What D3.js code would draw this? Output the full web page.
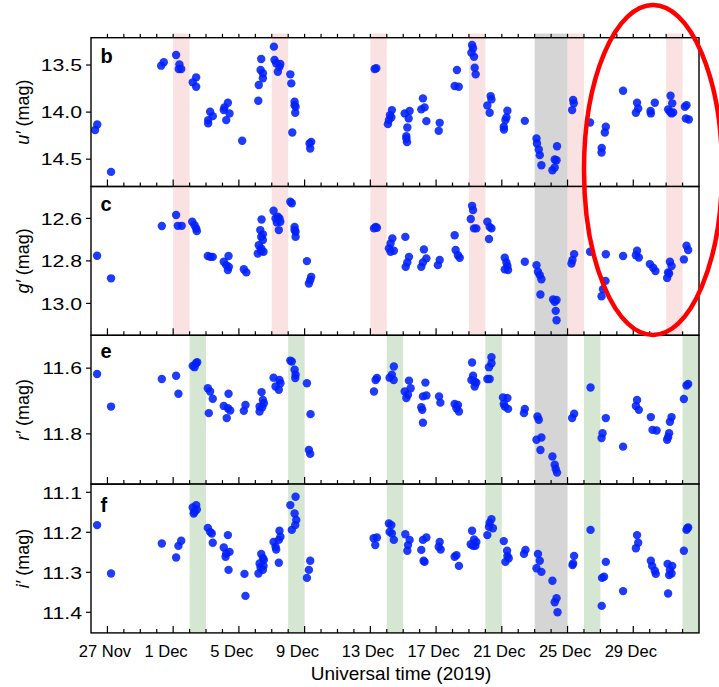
<!DOCTYPE html>
<html><head><meta charset="utf-8">
<script src="https://cdn.jsdelivr.net/npm/d3@7"></script>
<style>body{margin:0;background:#fff}svg{display:block}text{font-family:"Liberation Sans",Arial,Helvetica,sans-serif}</style>
</head><body><svg id="c" width="719" height="687"></svg>
<script>
// time values: fractional day of December 2019 (UT); values < 1 are in late November, > 31 in January 2020
const uT = [-3.75,-3.62,-2.78,0.27,0.43,1.18,1.38,1.49,1.34,2.19,2.40,2.40,3.13,3.25,3.41,3.13,4.08,4.33,4.23,4.43,4.12,5.20,6.18,6.21,6.36,6.32,6.46,6.46,7.13,7.17,7.27,7.47,7.37,7.52,8.13,8.19,8.25,8.39,8.45,8.43,8.39,9.30,9.34,9.40,
13.26,13.36,14.07,14.19,14.31,14.28,14.13,15.09,15.39,15.33,15.25,15.19,15.23,15.19,16.20,16.10,16.30,16.41,17.22,17.16,18.27,18.13,18.38,19.19,19.25,19.15,19.31,19.35,19.41,20.32,20.12,20.26,20.37,21.34,21.22,21.12,21.13,21.28,22.40,23.11,23.14,23.25,23.31,23.41,24.36,24.22,24.33,24.08,24.22,25.34,25.38,25.28,26.37,27.33,27.27,27.08,27.07,28.38,29.23,29.30,29.16,30.07,30.31,30.05,31.27,31.37,31.12,31.23,31.33,31.43,32.24,32.14,32.20,32.38];
const uMag = [14.190,14.131,14.635,13.507,13.471,13.394,13.493,13.543,13.543,13.684,13.631,13.731,14.120,13.997,14.043,14.085,13.979,13.901,14.085,14.014,13.950,14.305,13.880,13.713,13.436,13.553,13.588,13.641,13.305,13.447,13.482,13.518,13.571,13.489,13.599,13.695,14.216,13.890,13.944,14.007,13.926,14.333,14.386,14.316,
13.543,13.535,14.128,14.032,13.979,14.056,14.085,14.014,13.989,14.067,14.163,14.255,14.319,14.280,13.854,13.971,13.950,14.096,14.114,14.199,13.553,13.723,13.731,13.287,13.322,13.369,13.412,13.529,13.599,13.830,13.929,14.007,13.865,13.986,14.085,14.156,14.184,14.056,14.093,14.280,14.333,14.397,14.457,14.564,14.362,14.503,14.511,14.617,14.588,13.872,13.907,13.979,14.110,14.156,14.216,14.380,14.429,13.773,13.901,13.961,14.007,14.014,13.901,13.989,13.827,13.907,13.971,13.997,14.014,14.003,13.926,13.944,14.067,14.078];

const gT = [-3.63,-2.78,0.31,1.18,1.28,1.52,2.16,2.30,2.40,2.44,3.11,3.27,3.41,4.08,4.37,4.23,4.39,4.33,5.30,5.45,6.38,6.30,6.46,6.36,6.46,6.21,6.36,6.50,6.15,6.36,7.11,7.23,7.37,7.47,7.31,7.43,7.52,8.13,8.22,8.39,8.45,8.45,8.39,9.14,9.26,9.40,9.34,
13.22,13.32,13.40,14.34,14.23,14.13,14.23,14.43,15.13,15.35,15.25,15.15,16.26,16.41,16.20,16.10,17.22,17.11,18.13,18.19,18.33,18.44,19.19,19.25,19.11,19.31,19.45,20.12,20.37,20.26,20.22,21.18,21.28,21.34,21.18,21.38,22.40,23.11,23.20,23.31,23.41,23.35,24.12,24.33,24.22,24.28,24.33,25.40,25.30,25.24,26.37,27.33,27.31,27.16,27.07,28.38,29.23,29.34,29.16,30.01,30.21,30.35,31.23,31.33,31.12,31.06,31.18,32.08,32.24,32.34];
const gMag = [12.776,12.882,12.636,12.584,12.635,12.635,12.616,12.632,12.647,12.660,12.777,12.781,12.781,12.804,12.777,12.820,12.828,12.843,12.839,12.854,12.605,12.655,12.675,12.687,12.702,12.726,12.741,12.757,12.765,12.754,12.564,12.600,12.592,12.600,12.619,12.655,12.616,12.522,12.529,12.640,12.663,12.687,12.655,12.801,12.906,12.875,12.890,
12.647,12.640,12.644,12.694,12.718,12.741,12.757,12.752,12.687,12.781,12.807,12.828,12.746,12.788,12.807,12.828,12.796,12.820,12.679,12.749,12.773,12.785,12.541,12.561,12.603,12.647,12.647,12.616,12.647,12.640,12.697,12.785,12.807,12.824,12.840,12.843,12.804,12.820,12.851,12.867,12.886,12.958,12.981,12.984,12.992,13.035,13.079,12.768,12.796,12.812,12.757,12.769,12.894,12.933,12.966,12.777,12.752,12.784,12.773,12.815,12.832,12.848,12.804,12.824,12.854,12.880,12.859,12.793,12.729,12.749];

const rT = [-3.63,-2.78,0.31,1.18,1.32,2.19,2.40,2.46,2.30,3.11,3.25,3.41,3.17,4.08,4.37,4.33,4.47,4.26,5.30,5.40,6.26,6.38,6.46,6.52,6.42,6.26,7.11,7.23,7.43,7.47,7.53,8.13,8.22,8.39,8.45,8.43,9.14,9.36,9.26,9.34,
13.22,13.32,13.40,14.17,14.31,14.42,14.43,15.35,15.09,15.45,15.19,15.29,16.35,16.20,16.41,16.10,16.16,16.20,17.18,17.26,18.13,18.33,18.39,18.24,19.19,19.25,19.15,19.35,19.35,19.45,20.37,20.37,20.22,20.12,20.26,21.07,21.34,21.18,21.38,21.12,22.40,22.35,23.17,23.25,23.11,23.41,23.35,24.08,24.22,24.28,24.36,25.40,25.28,26.40,27.33,27.13,27.07,28.38,29.23,29.16,29.34,30.07,30.17,30.42,31.33,31.23,31.18,31.12,31.06,32.08,32.24,32.34];
const rMag = [11.618,11.717,11.633,11.623,11.678,11.593,11.585,11.582,11.597,11.661,11.671,11.693,11.737,11.715,11.678,11.722,11.729,11.752,11.730,11.712,11.732,11.673,11.697,11.707,11.719,11.717,11.629,11.656,11.666,11.636,11.646,11.577,11.580,11.605,11.620,11.630,11.646,11.740,11.849,11.861,
11.671,11.636,11.630,11.629,11.620,11.636,11.595,11.638,11.671,11.661,11.691,11.681,11.644,11.686,11.683,11.719,11.727,11.766,11.686,11.705,11.709,11.712,11.732,11.722,11.583,11.623,11.636,11.641,11.656,11.644,11.567,11.585,11.597,11.633,11.633,11.689,11.691,11.717,11.724,11.709,11.724,11.737,11.747,11.757,11.818,11.811,11.849,11.869,11.894,11.907,11.918,11.739,11.752,11.659,11.752,11.798,11.813,11.839,11.697,11.715,11.727,11.749,11.788,11.790,11.749,11.763,11.798,11.810,11.818,11.694,11.653,11.648];

const iT = [-3.63,-2.78,0.31,1.18,1.32,1.49,2.19,2.30,2.40,2.44,2.25,3.11,3.25,3.35,3.41,4.08,4.33,4.23,4.43,4.37,4.19,5.34,5.40,6.19,6.36,6.26,6.46,6.52,6.32,6.50,6.46,7.11,7.23,7.43,7.47,7.53,7.43,7.27,8.13,8.22,8.45,8.39,8.49,8.43,9.14,9.34,9.26,
13.30,13.40,13.20,14.13,14.28,14.31,14.43,14.17,15.13,15.39,15.25,15.29,16.41,16.20,16.10,16.24,16.30,17.22,17.28,17.16,18.24,18.39,18.13,19.19,19.31,19.45,19.25,19.11,19.39,20.37,20.26,20.46,20.12,20.22,21.12,21.32,21.22,21.42,21.34,22.44,22.35,23.20,23.31,23.11,23.41,24.08,24.33,24.22,24.39,25.40,25.30,25.34,26.40,27.33,27.22,27.10,27.08,28.38,29.23,29.30,29.16,30.07,30.15,30.31,30.37,31.09,31.37,31.23,31.18,31.33,31.12,32.08,32.24,32.34,32.29];
const iMag = [11.182,11.303,11.228,11.263,11.234,11.221,11.138,11.149,11.132,11.143,11.153,11.189,11.199,11.203,11.226,11.238,11.207,11.253,11.249,11.294,11.261,11.304,11.359,11.303,11.254,11.278,11.294,11.269,11.288,11.284,11.264,11.224,11.236,11.219,11.196,11.211,11.276,11.243,11.132,11.194,11.111,11.153,11.169,11.182,11.314,11.271,11.294,
11.232,11.213,11.215,11.178,11.182,11.203,11.219,11.199,11.205,11.219,11.246,11.232,11.213,11.219,11.244,11.271,11.274,11.224,11.243,11.236,11.257,11.284,11.261,11.196,11.218,11.224,11.234,11.230,11.234,11.167,11.176,11.190,11.207,11.186,11.222,11.246,11.274,11.265,11.259,11.244,11.254,11.254,11.271,11.290,11.299,11.321,11.365,11.375,11.400,11.259,11.282,11.278,11.194,11.274,11.311,11.314,11.384,11.347,11.207,11.226,11.240,11.271,11.284,11.296,11.304,11.279,11.284,11.294,11.307,11.303,11.353,11.246,11.194,11.188,11.190];

// y-axis domains (magnitude, inverted) and tick values
const uDomain = [13.21, 14.79], gDomain = [12.45, 13.15], rDomain = [11.50, 11.953], iDomain = [11.0795, 11.4515];
const uTicks = [13.5, 14.0, 14.5], gTicks = [12.6, 12.8, 13.0], rTicks = [11.6, 11.8], iTicks = [11.1, 11.2, 11.3, 11.4];
// shaded one-day intervals (start day of December 2019)
const pinkBands = [1, 7, 13, 19, 25, 31];
const greenBands = [2, 8, 14, 20, 26, 32];
const grayBand = [23, 25];
const panelLetters = ["b", "c", "e", "f"];
const bandNames = ["u", "g", "r", "i"];
const xTitle = "Universal time (2019)";

const svg = d3.select("#c");
const toDate = t => new Date(Date.UTC(2019, 11, 1) + (t - 1) * 864e5);
const x = d3.scaleUtc().domain([new Date(Date.UTC(2019, 10, 26)), new Date(Date.UTC(2020, 0, 2))]).range([91, 699]);
const top0 = 37.7, ph = 148.8;
const PINK = "#fbe2e2", GREEN = "#d5e6d2", GRAY = "#d5d5d5", DOT = "rgb(0,32,250)";

const panels = [
  {T: uT, M: uMag, dom: uDomain, ticks: uTicks, bands: pinkBands, col: PINK, lo: 25.3},
  {T: gT, M: gMag, dom: gDomain, ticks: gTicks, bands: pinkBands, col: PINK, lo: 24.5},
  {T: rT, M: rMag, dom: rDomain, ticks: rTicks, bands: greenBands, col: GREEN, lo: 23},
  {T: iT, M: iMag, dom: iDomain, ticks: iTicks, bands: greenBands, col: GREEN, lo: 28}
];
const days = d3.utcDay.range(new Date(Date.UTC(2019, 10, 27)), new Date(Date.UTC(2020, 0, 2)));
const defs = svg.append("defs");

// sliver of the panel above (cropped)
defs.append("clipPath").attr("id", "clipA").append("rect").attr("x", 91).attr("y", 33.5).attr("width", 608).attr("height", 4.2);
const ga = svg.append("g").attr("clip-path", "url(#clipA)");
ga.selectAll("rect.b").data(pinkBands).join("rect")
  .attr("x", d => x(toDate(d))).attr("width", d => x(toDate(d + 1)) - x(toDate(d)))
  .attr("y", 30).attr("height", 10).attr("fill", PINK);
ga.append("rect").attr("x", x(toDate(grayBand[0]))).attr("width", x(toDate(grayBand[1])) - x(toDate(grayBand[0])))
  .attr("y", 30).attr("height", 10).attr("fill", GRAY);
ga.selectAll("line").data(days).join("line")
  .attr("x1", d => x(d)).attr("x2", d => x(d)).attr("y1", top0).attr("y2", top0 - 4)
  .attr("stroke", "#000").attr("stroke-width", 1.2);

panels.forEach((p, k) => {
  const y0 = top0 + k * ph, y1 = y0 + ph;
  const y = d3.scaleLinear().domain(p.dom).range([y0, y1]);
  defs.append("clipPath").attr("id", "clip" + k).append("rect").attr("x", 91).attr("y", y0).attr("width", 608).attr("height", ph);
  const g = svg.append("g");
  const gc = g.append("g").attr("clip-path", `url(#clip${k})`);
  gc.selectAll("rect.band").data(p.bands).join("rect").attr("class", "band")
    .attr("x", d => x(toDate(d))).attr("width", d => x(toDate(d + 1)) - x(toDate(d)))
    .attr("y", y0).attr("height", ph).attr("fill", p.col);
  gc.append("rect").attr("x", x(toDate(grayBand[0]))).attr("width", x(toDate(grayBand[1])) - x(toDate(grayBand[0])))
    .attr("y", y0).attr("height", ph).attr("fill", GRAY);
  const n = Math.min(p.T.length, p.M.length);
  gc.selectAll("circle").data(d3.range(n)).join("circle")
    .attr("cx", i => x(toDate(p.T[i]))).attr("cy", i => y(p.M[i])).attr("r", 4.2)
    .attr("fill", DOT).attr("fill-opacity", 0.88);
  // bottom ticks (inward)
  g.selectAll("line.xt").data(days).join("line").attr("class", "xt")
    .attr("x1", d => x(d)).attr("x2", d => x(d)).attr("y1", y1)
    .attr("y2", (d, i) => y1 - (i % 4 === 0 ? 7 : 4))
    .attr("stroke", "#000").attr("stroke-width", 1.2);
  // left ticks and labels
  g.selectAll("line.yt").data(p.ticks).join("line").attr("class", "yt")
    .attr("x1", 86).attr("x2", 91).attr("y1", d => y(d)).attr("y2", d => y(d))
    .attr("stroke", "#000").attr("stroke-width", 1.2);
  g.selectAll("text.yl").data(p.ticks).join("text").attr("class", "yl")
    .attr("transform", d => `translate(82,${y(d) + 6.2}) scale(1.25,1)`)
    .attr("text-anchor", "end").attr("font-size", 17).attr("fill", "#000")
    .text(d => d3.format(".1f")(d));
  // frame
  g.append("rect").attr("x", 91).attr("y", y0).attr("width", 608).attr("height", ph)
    .attr("fill", "none").attr("stroke", "#000").attr("stroke-width", 1.4);
  // panel letter
  g.append("text").attr("x", 100.5).attr("y", y0 + p.lo).attr("font-size", 20).attr("font-weight", "bold")
    .text(panelLetters[k]);
  // y title
  const t = g.append("text").attr("transform", `translate(29,${(y0 + y1) / 2}) rotate(-90)`)
    .attr("text-anchor", "middle").attr("font-size", 18);
  t.append("tspan").attr("font-style", "italic").text(bandNames[k] + "\u2032");
  t.append("tspan").text(" (mag)");
});

// x tick labels
const fmt = d3.utcFormat("%-d %b");
svg.selectAll("text.xl").data(days.filter((d, i) => i % 4 === 0)).join("text").attr("class", "xl")
  .attr("x", d => x(d) - 2.5 - (d.getUTCDate() < 10 ? 4.6 : 0)).attr("y", 657)
  .attr("text-anchor", "middle").attr("font-size", 16.5).text(fmt);
svg.append("text").attr("x", 401).attr("y", 680).attr("text-anchor", "middle").attr("font-size", 19).text(xTitle);

// red annotation ellipse
svg.append("ellipse").attr("cx", 653).attr("cy", 170).attr("rx", 69).attr("ry", 165)
  .attr("fill", "none").attr("stroke", "#ff0000").attr("stroke-width", 4.5);
</script></body></html>
